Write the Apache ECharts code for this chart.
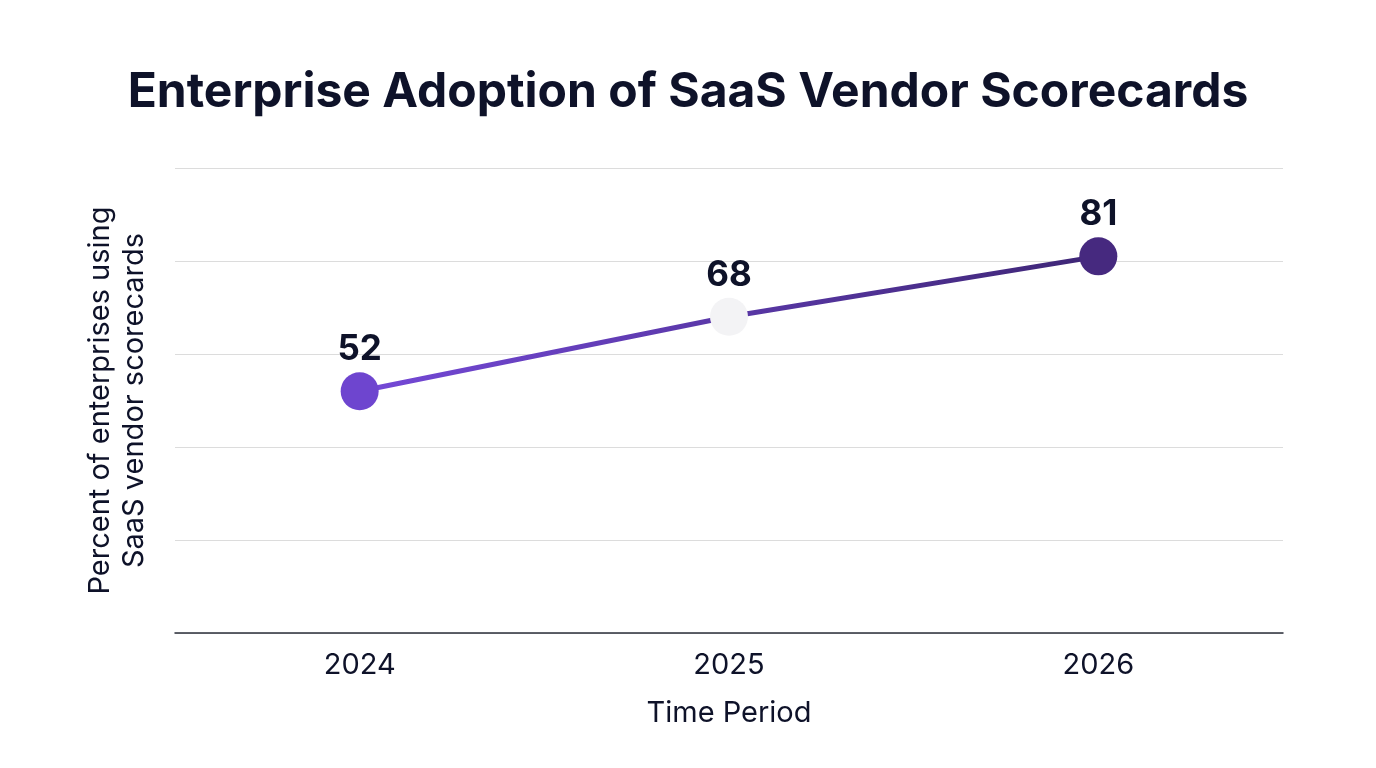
<!DOCTYPE html>
<html><head><meta charset="utf-8">
<script src="https://cdn.jsdelivr.net/npm/echarts@6/dist/echarts.min.js"></script>
<style>html,body{margin:0;padding:0;background:#fff}#c{width:1376px;height:768px}</style>
</head><body><div id="c"></div>
<script>
const categories = ['2024', '2025', '2026'];
const values = [52, 68, 81];
const markerColors = ['#6E45CF', '#F3F3F5', '#46297F'];
const titleText = 'Enterprise Adoption of SaaS Vendor Scorecards';
const xName = 'Time Period';
const yName = 'Percent of enterprises using\nSaaS vendor scorecards';

const chart = echarts.init(document.getElementById('c'));
const txt = '#0E1229';
chart.setOption({
  backgroundColor: '#fff',
  title: { text: titleText, left: 'center', top: 64,
    textStyle: { fontFamily: 'Inter', fontWeight: 'bold', fontSize: 48, color: txt } },
  grid: { left: 175, right: 93, top: 168, bottom: 135 },
  xAxis: { type: 'category', data: categories, boundaryGap: true,
    name: xName, nameLocation: 'middle', nameGap: 66,
    nameTextStyle: { fontFamily: 'Inter', fontSize: 29, color: txt },
    axisLine: { lineStyle: { color: '#2B2F3A', width: 1.5 } },
    axisTick: { show: false },
    axisLabel: { fontFamily: 'Inter', fontSize: 29, color: txt, margin: 18 } },
  yAxis: { type: 'value', min: 0, max: 100, interval: 20,
    name: yName, nameLocation: 'middle', nameGap: 24, nameRotate: 90,
    nameTextStyle: { fontFamily: 'Inter', fontSize: 29, color: txt, lineHeight: 34 },
    axisLabel: { show: false }, axisLine: { show: false }, axisTick: { show: false },
    splitLine: { lineStyle: { color: '#DCDCDC', width: 1 } } },
  series: [{
    type: 'line', data: values.map((v, i) => ({ value: v, itemStyle: { color: markerColors[i] } })),
    symbol: 'circle', symbolSize: 38,
    lineStyle: { width: 5, color: new echarts.graphic.LinearGradient(0, 0, 1, 0, [
      { offset: 0, color: '#7549D8' }, { offset: 1, color: '#3E2675' }]) },
    label: { show: true, position: 'top', distance: 5,
      fontFamily: 'Inter', fontWeight: 'bold', fontSize: 35, color: txt }
  }]
});
</script></body></html>
